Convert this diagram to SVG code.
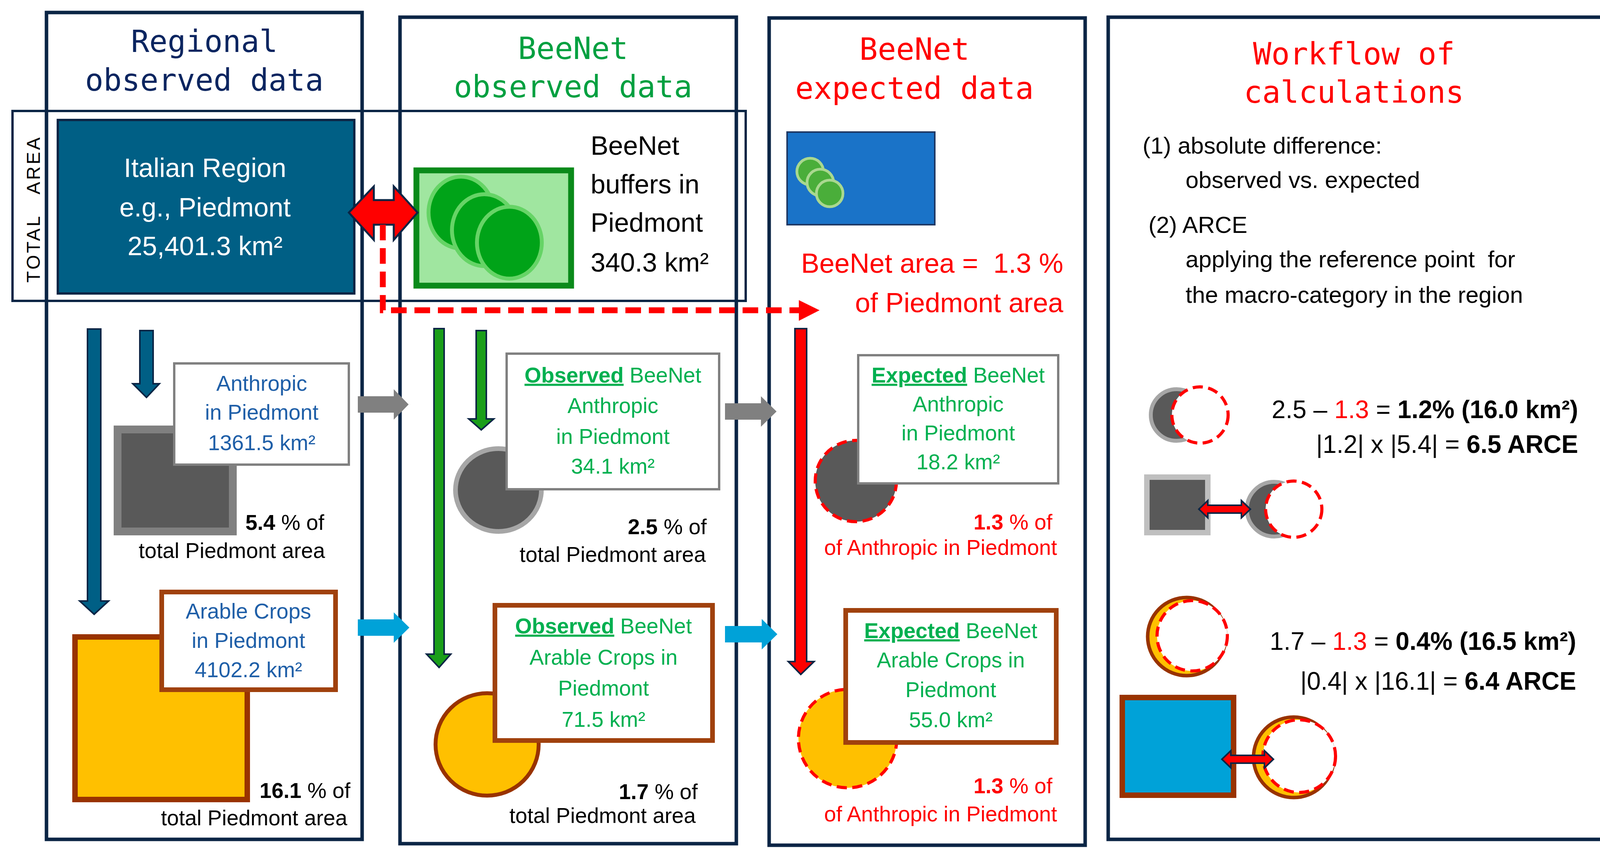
<svg xmlns="http://www.w3.org/2000/svg" width="4206" height="2188" viewBox="0 0 4206 2188">
<defs>
<style>
.col{fill:#fff;stroke:#0b2545;stroke-width:9}
.title{font-family:"DejaVu Sans Mono","Liberation Mono",monospace;font-size:78px;text-anchor:middle}
.t{font-family:"Liberation Sans",Arial,sans-serif}
.bx{font-size:55px;text-anchor:middle}
.g{fill:#00b050}
.b{fill:#1f5fa8}
.r{fill:#ff0000}
.k{fill:#000}
.sm{font-size:55px;text-anchor:end}
.wf{font-size:60px}
.dash{stroke:#ff0000;stroke-width:8;stroke-dasharray:26 14;fill:#fff}
.arrowdk{stroke:#0b2545;stroke-width:4}
</style>
</defs>
<rect width="4206" height="2188" fill="#fff"/>

<g id="columns">
<rect class="col" x="119" y="32" width="808" height="2116"/>
<rect class="col" x="1024" y="44" width="861" height="2115"/>
<rect class="col" x="1969" y="46" width="809" height="2117"/>
<rect class="col" x="2837" y="44" width="1335" height="2104"/>
<rect x="32" y="284" width="1877" height="486" fill="none" stroke="#0b2545" stroke-width="6"/>
</g>

<g id="titles">
<text class="title" x="523" y="133" fill="#0b2560">Regional</text>
<text class="title" x="523" y="232" fill="#0b2560">observed data</text>
<text class="title" x="1467" y="151" fill="#00a040">BeeNet</text>
<text class="title" x="1467" y="249" fill="#00a040">observed data</text>
<text class="title" x="2341" y="153" fill="#ff0000">BeeNet</text>
<text class="title" x="2341" y="253" fill="#ff0000">expected data</text>
<text class="title" x="3466" y="165" fill="#ff0000">Workflow of</text>
<text class="title" x="3466" y="263" fill="#ff0000">calculations</text>
<text class="t" transform="translate(102,535) rotate(-90)" text-anchor="middle" font-size="48" letter-spacing="5" fill="#000" xml:space="preserve">TOTAL   AREA</text>
</g>

<g id="italian-region">
<rect x="148" y="307" width="759" height="444" fill="#005f85" stroke="#0b2545" stroke-width="6"/>
<text class="t" x="525" y="453" font-size="68" text-anchor="middle" fill="#fff">Italian Region</text>
<text class="t" x="525" y="554" font-size="68" text-anchor="middle" fill="#fff">e.g., Piedmont</text>
<text class="t" x="525" y="653" font-size="68" text-anchor="middle" fill="#fff">25,401.3 km²</text>
</g>

<g id="beenet-buffers">
<rect x="1066" y="436" width="396" height="295" fill="#a0e6a0" stroke="#0a8a1a" stroke-width="15"/>
<ellipse cx="1180" cy="544" rx="83" ry="92" fill="#00a318" stroke="#66d466" stroke-width="10"/>
<ellipse cx="1240" cy="589" rx="83" ry="92" fill="#00a318" stroke="#66d466" stroke-width="10"/>
<ellipse cx="1304" cy="621" rx="83" ry="92" fill="#00a318" stroke="#66d466" stroke-width="10"/>
<text class="t k" x="1512" y="396" font-size="68">BeeNet</text>
<text class="t k" x="1512" y="495" font-size="68">buffers in</text>
<text class="t k" x="1512" y="593" font-size="68">Piedmont</text>
<text class="t k" x="1512" y="695" font-size="68">340.3 km²</text>
</g>

<g id="expected-area">
<rect x="2015" y="338" width="378" height="237" fill="#1a73c8" stroke="#1f3864" stroke-width="4"/>
<circle cx="2074" cy="439" r="34" fill="#4aae3a" stroke="#a9d88f" stroke-width="7"/>
<circle cx="2100" cy="467" r="34" fill="#4aae3a" stroke="#a9d88f" stroke-width="7"/>
<circle cx="2124" cy="495" r="34" fill="#4aae3a" stroke="#a9d88f" stroke-width="7"/>
<text class="t r" x="2722" y="698" font-size="70" text-anchor="end" xml:space="preserve">BeeNet area =  1.3 %</text>
<text class="t r" x="2722" y="799" font-size="70" text-anchor="end">of Piedmont area</text>
</g>

<g id="regional-anthropic">
<rect x="301" y="1099" width="295" height="261" fill="#595959" stroke="#808080" stroke-width="20"/>
<rect x="446" y="930" width="447" height="259" fill="#fff" stroke="#808080" stroke-width="6"/>
<text class="t bx b" x="670" y="1000">Anthropic</text>
<text class="t bx b" x="670" y="1074">in Piedmont</text>
<text class="t bx b" x="670" y="1152">1361.5 km²</text>
<text class="t sm k" x="830" y="1356"><tspan font-weight="bold">5.4</tspan> % of</text>
<text class="t sm k" x="832" y="1428">total Piedmont area</text>
</g>

<g id="regional-arable">
<rect x="192" y="1630" width="441" height="416" fill="#ffc000" stroke="#993300" stroke-width="14"/>
<rect x="414" y="1515" width="445" height="250" fill="#fff" stroke="#a0410d" stroke-width="12"/>
<text class="t bx b" x="636" y="1583">Arable Crops</text>
<text class="t bx b" x="636" y="1658">in Piedmont</text>
<text class="t bx b" x="636" y="1733">4102.2 km²</text>
<text class="t sm k" x="897" y="2042"><tspan font-weight="bold">16.1</tspan> % of</text>
<text class="t sm k" x="889" y="2112">total Piedmont area</text>
</g>

<g id="observed-anthropic">
<ellipse cx="1276" cy="1254" rx="110" ry="106" fill="#595959" stroke="#a6a6a6" stroke-width="12"/>
<rect x="1297" y="905" width="544" height="347" fill="#fff" stroke="#808080" stroke-width="6"/>
<text class="t bx g" x="1569" y="979"><tspan font-weight="bold" text-decoration="underline">Observed</tspan> BeeNet</text>
<text class="t bx g" x="1569" y="1057">Anthropic</text>
<text class="t bx g" x="1569" y="1136">in Piedmont</text>
<text class="t bx g" x="1569" y="1212">34.1 km²</text>
<text class="t sm k" x="1809" y="1367"><tspan font-weight="bold">2.5</tspan> % of</text>
<text class="t sm k" x="1807" y="1438">total Piedmont area</text>
</g>

<g id="observed-arable">
<ellipse cx="1247" cy="1905" rx="132" ry="131" fill="#ffc000" stroke="#993300" stroke-width="10"/>
<rect x="1267" y="1549" width="557" height="346" fill="#fff" stroke="#a0410d" stroke-width="12"/>
<text class="t bx g" x="1545" y="1621"><tspan font-weight="bold" text-decoration="underline">Observed</tspan> BeeNet</text>
<text class="t bx g" x="1545" y="1701">Arable Crops in</text>
<text class="t bx g" x="1545" y="1780">Piedmont</text>
<text class="t bx g" x="1545" y="1860">71.5 km²</text>
<text class="t sm k" x="1786" y="2045"><tspan font-weight="bold">1.7</tspan> % of</text>
<text class="t sm k" x="1781" y="2106">total Piedmont area</text>
</g>

<g id="expected-anthropic">
<circle cx="2191" cy="1231" r="104" class="dash" style="fill:#595959"/>
<rect x="2197" y="909" width="512" height="328" fill="#fff" stroke="#808080" stroke-width="6"/>
<text class="t bx g" x="2453" y="979"><tspan font-weight="bold" text-decoration="underline">Expected</tspan> BeeNet</text>
<text class="t bx g" x="2453" y="1053">Anthropic</text>
<text class="t bx g" x="2453" y="1127">in Piedmont</text>
<text class="t bx g" x="2453" y="1201">18.2 km²</text>
<text class="t sm r" x="2694" y="1355"><tspan font-weight="bold">1.3</tspan> % of</text>
<text class="t sm r" x="2706" y="1420">of Anthropic in Piedmont</text>
</g>

<g id="expected-arable">
<circle cx="2170" cy="1890" r="126" class="dash" style="fill:#ffc000"/>
<rect x="2165" y="1562" width="539" height="338" fill="#fff" stroke="#a0410d" stroke-width="12"/>
<text class="t bx g" x="2434" y="1633"><tspan font-weight="bold" text-decoration="underline">Expected</tspan> BeeNet</text>
<text class="t bx g" x="2434" y="1708">Arable Crops in</text>
<text class="t bx g" x="2434" y="1784">Piedmont</text>
<text class="t bx g" x="2434" y="1861">55.0 km²</text>
<text class="t sm r" x="2694" y="2030"><tspan font-weight="bold">1.3</tspan> % of</text>
<text class="t sm r" x="2706" y="2102">of Anthropic in Piedmont</text>
</g>

<g id="workflow">
<text class="t wf k" x="2925" y="393">(1) absolute difference:</text>
<text class="t wf k" x="3035" y="481">observed vs. expected</text>
<text class="t wf k" x="2940" y="596">(2) ARCE</text>
<text class="t wf k" x="3035" y="684" xml:space="preserve">applying the reference point  for</text>
<text class="t wf k" x="3035" y="775">the macro-category in the region</text>

<circle cx="3012" cy="1062" r="66" fill="#595959" stroke="#a6a6a6" stroke-width="10"/>
<circle cx="3072" cy="1062" r="72" class="dash"/>
<text class="t k" x="4040" y="1070" font-size="64" text-anchor="end">2.5 – <tspan fill="#ff0000">1.3</tspan> = <tspan font-weight="bold">1.2% (16.0 km²)</tspan></text>
<text class="t k" x="4040" y="1159" font-size="64" text-anchor="end">|1.2| x |5.4| = <tspan font-weight="bold">6.5 ARCE</tspan></text>

<rect x="2936" y="1221" width="156" height="142" fill="#595959" stroke="#bfbfbf" stroke-width="14"/>
<circle cx="3262" cy="1303" r="70" fill="#595959" stroke="#a6a6a6" stroke-width="10"/>
<circle cx="3312" cy="1303" r="72" class="dash"/>

<circle cx="3038" cy="1629" r="100" fill="#ffc000" stroke="#993300" stroke-width="9"/>
<circle cx="3052" cy="1627" r="90" class="dash"/>
<text class="t k" x="4035" y="1663" font-size="64" text-anchor="end">1.7 – <tspan fill="#ff0000">1.3</tspan> = <tspan font-weight="bold">0.4% (16.5 km²)</tspan></text>
<text class="t k" x="4035" y="1765" font-size="64" text-anchor="end">|0.4| x |16.1| = <tspan font-weight="bold">6.4 ARCE</tspan></text>

<rect x="2873" y="1785" width="285" height="250" fill="#00a2d8" stroke="#993300" stroke-width="14"/>
<circle cx="3312" cy="1938" r="103" fill="#ffc000" stroke="#993300" stroke-width="9"/>
<circle cx="3326" cy="1935" r="93" class="dash"/>
</g>

<g id="connectors">
<polygon points="893,544 957,477 957,512 1008,512 1008,477 1069,544 1008,614 1008,575 957,575 957,614" fill="#ff0000" stroke="#0b2545" stroke-width="5"/>
<polyline points="980,575 980,794 2050,794" fill="none" stroke="#ff0000" stroke-width="15" stroke-dasharray="40 20"/>
<polygon points="2045,768 2098,794 2045,821" fill="#ff0000"/>
<polygon points="224,842 258,842 258,1538 278,1538 241,1572 204,1538 224,1538" fill="#005f85" class="arrowdk"/>
<polygon points="358,846 392,846 392,982 408,982 375,1017 340,982 358,982" fill="#005f85" class="arrowdk"/>
<polygon points="1111,841 1137,841 1137,1674 1154,1674 1124,1708 1092,1674 1111,1674" fill="#1a9e1a" class="arrowdk"/>
<polygon points="1219,846 1245,846 1245,1072 1264,1072 1232,1100 1200,1072 1219,1072" fill="#1a9e1a" class="arrowdk"/>
<polygon points="2035,841 2065,841 2065,1693 2084,1693 2050,1726 2018,1693 2035,1693" fill="#ff0000" class="arrowdk"/>
<polygon points="916,1014 1008,1014 1008,996 1046,1035 1008,1074 1008,1056 916,1056" fill="#808080"/>
<polygon points="1856,1032 1948,1032 1948,1014 1988,1053 1948,1092 1948,1074 1856,1074" fill="#808080"/>
<polygon points="916,1585 1008,1585 1008,1567 1048,1606 1008,1645 1008,1627 916,1627" fill="#00a2d8"/>
<polygon points="1856,1602 1950,1602 1950,1584 1990,1623 1950,1662 1950,1644 1856,1644" fill="#00a2d8"/>
<polygon points="3069,1303 3092,1281 3092,1293 3178,1293 3178,1281 3201,1303 3178,1325 3178,1313 3092,1313 3092,1325" fill="#ff0000" stroke="#0b2545" stroke-width="4"/>
<polygon points="3128,1943 3151,1921 3151,1933 3237,1933 3237,1921 3260,1943 3237,1965 3237,1953 3151,1953 3151,1965" fill="#ff0000" stroke="#0b2545" stroke-width="4"/>
</g>
</svg>
